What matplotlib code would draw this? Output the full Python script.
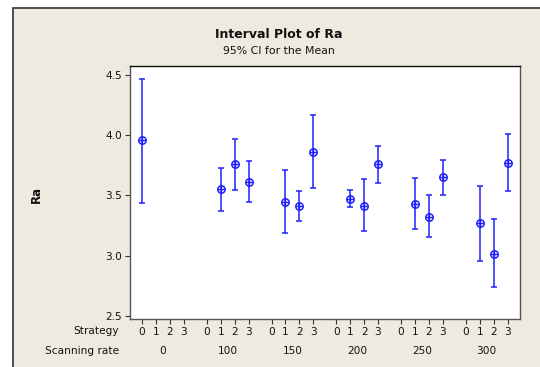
import matplotlib
matplotlib.use("Agg")
import matplotlib.pyplot as plt
from matplotlib.patches import Rectangle
import matplotlib.transforms as mtrans
import numpy as np

# ---- data ----
scan_levels = [0, 100, 150, 200, 250, 300]
strategy_levels = [0, 1, 2, 3]
scan_rate = [0, 100, 100, 100, 150, 150, 150, 200, 200, 200, 250, 250, 250, 300, 300, 300]
strategy  = [0, 1, 2, 3, 1, 2, 3, 1, 2, 3, 1, 2, 3, 1, 2, 3]
ra_mean   = [3.956, 3.550, 3.760, 3.611, 3.445, 3.412, 3.862, 3.470, 3.414, 3.762,
             3.431, 3.321, 3.652, 3.268, 3.016, 3.768]
ra_lower  = [3.439, 3.368, 3.542, 3.447, 3.188, 3.290, 3.563, 3.403, 3.205, 3.605,
             3.221, 3.152, 3.503, 2.953, 2.743, 3.536]
ra_upper  = [4.464, 3.729, 3.970, 3.787, 3.707, 3.539, 4.170, 3.542, 3.636, 3.912,
             3.644, 3.503, 3.793, 3.580, 3.301, 4.011]
y_ticks = [2.5, 3.0, 3.5, 4.0, 4.5]

GROUP_STEP = 4.65
W, H = 540, 367
BG = "#EEEAE0"
BLUE = "#2020FF"

fig = plt.figure(figsize=(W / 100, H / 100), dpi=100, facecolor="white")
frame = Rectangle((13 / W, -0.2), 1.5, 1.2 - 8 / H,
                  transform=fig.transFigure, facecolor=BG,
                  edgecolor="#333333", linewidth=1.2, zorder=-10)
fig.patches.append(frame)

L, R, T, B = 130, 520, 66, 319.3
ax = fig.add_axes([L / W, 1 - B / H, (R - L) / W, (B - T) / H], zorder=5)
ax.set_facecolor("white")

def xpos(sr, st):
    return scan_levels.index(sr) * GROUP_STEP + st

xs = np.array([xpos(a, b) for a, b in zip(scan_rate, strategy)])
m = np.array(ra_mean)
lo = np.array(ra_lower)
hi = np.array(ra_upper)
ax.errorbar(xs, m, yerr=[m - lo, hi - m], fmt="none", ecolor=BLUE,
            elinewidth=1.1, capsize=2.3, capthick=1.1, zorder=2)
ax.plot(xs, m, linestyle="none", marker="o", markersize=5.3,
        markerfacecolor="none", markeredgecolor=BLUE, markeredgewidth=1.1, zorder=3)
ax.plot(xs, m, linestyle="none", marker="+", markersize=5.3,
        markeredgecolor=BLUE, markeredgewidth=1.0, zorder=3)

ax.set_xlim(-0.86, 5 * GROUP_STEP + 3 + 0.89)
ax.set_ylim(2.473, 4.572)
ax.set_yticks(y_ticks)
ax.set_yticklabels([f"{v:.1f}" for v in y_ticks])

tick_x = [g * GROUP_STEP + s for g in range(len(scan_levels)) for s in strategy_levels]
tick_lab = [str(s) for g in range(len(scan_levels)) for s in strategy_levels]
ax.set_xticks(tick_x)
ax.set_xticklabels(tick_lab)

fs = 7.6
ax.tick_params(axis="both", direction="out", length=3.5, width=0.8,
               color="#333333", labelsize=fs, labelcolor="#111111", pad=2)
for side in ["left", "bottom", "right"]:
    ax.spines[side].set_color("#555555")
    ax.spines[side].set_linewidth(1.0)
ax.spines["top"].set_color("#111111")
ax.spines["top"].set_linewidth(1.0)

trans = mtrans.blended_transform_factory(ax.transData, fig.transFigure)
for g, sr in enumerate(scan_levels):
    ax.text(g * GROUP_STEP + 1.5, 1 - 351 / H, str(sr), transform=trans,
            ha="center", va="center", fontsize=fs, color="#111111", clip_on=False)

fig.text(119 / W, 1 - 331 / H, "Strategy", ha="right", va="center",
         fontsize=fs, color="#111111")
fig.text(119 / W, 1 - 351 / H, "Scanning rate", ha="right", va="center",
         fontsize=fs, color="#111111")
fig.text(36 / W, 1 - 194 / H, "Ra", ha="center", va="center", rotation=90,
         fontsize=8.5, fontweight="bold", color="#111111")
fig.text(279 / W, 1 - 34 / H, "Interval Plot of Ra", ha="center", va="center",
         fontsize=9, fontweight="bold", color="#111111")
fig.text(279 / W, 1 - 51.5 / H, "95% CI for the Mean", ha="center", va="center",
         fontsize=7.8, color="#111111")

fig.savefig("out.png", dpi=100, facecolor=fig.get_facecolor())
